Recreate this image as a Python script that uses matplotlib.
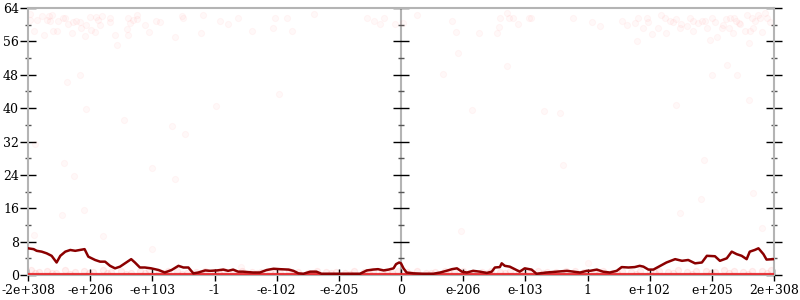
import numpy as np
import matplotlib.pyplot as plt

# x positions are on the tick-index scale (-6 .. 6), one unit per labelled tick
tick_labels = ["-2e+308", "-e+206", "-e+103", "-1", "-e-102", "-e-205", "0",
               "e-206", "e-103", "1", "e+102", "e+205", "2e+308"]

# running mean of the error (dark red line)
mean_x = [-6.00, -5.91, -5.86, -5.78, -5.70, -5.62, -5.54, -5.48, -5.40, -5.32,
          -5.24, -5.16, -5.09, -5.03, -4.92, -4.84, -4.76, -4.68, -4.60, -4.52,
          -4.44, -4.34, -4.28, -4.20, -4.12, -4.02, -3.90, -3.80, -3.69, -3.58,
          -3.50, -3.42, -3.34, -3.26, -3.15, -3.07, -2.96, -2.86, -2.78, -2.70,
          -2.62, -2.54, -2.38, -2.27, -2.16, -2.05, -1.95, -1.81, -1.73, -1.65,
          -1.57, -1.46, -1.36, -1.28, -1.14, -0.98, -0.82, -0.66, -0.55, -0.45,
          -0.37, -0.28, -0.20, -0.12, -0.08, -0.03, 0.00, 0.04, 0.09, 0.20,
          0.36, 0.52, 0.63, 0.73, 0.82, 0.90, 0.98, 1.06, 1.16, 1.27,
          1.38, 1.46, 1.51, 1.59, 1.62, 1.67, 1.75, 1.83, 1.91, 1.99,
          2.10, 2.18, 2.34, 2.50, 2.67, 2.77, 2.88, 2.99, 3.04, 3.15,
          3.25, 3.36, 3.47, 3.55, 3.66, 3.76, 3.84, 3.90, 3.98, 4.06,
          4.17, 4.27, 4.41, 4.52, 4.62, 4.73, 4.84, 4.92, 5.05, 5.13,
          5.24, 5.32, 5.40, 5.48, 5.56, 5.61, 5.69, 5.75, 5.83, 5.88, 5.99]
mean_y = [6.4, 6.2, 5.8, 5.6, 5.2, 4.6, 3.0, 4.6, 5.6, 6.0,
          5.8, 6.0, 6.2, 4.4, 3.6, 3.2, 3.2, 2.2, 1.6, 2.0,
          2.8, 3.8, 3.0, 1.8, 1.8, 1.6, 1.2, 0.6, 1.2, 2.2,
          1.8, 1.8, 0.4, 0.6, 1.1, 1.0, 1.1, 1.3, 1.0, 1.3,
          0.8, 0.8, 0.6, 0.6, 1.2, 1.5, 1.4, 1.3, 1.0, 0.4,
          0.3, 0.8, 0.8, 0.3, 0.3, 0.3, 0.3, 0.3, 1.1, 1.3,
          1.4, 1.1, 1.3, 1.6, 2.6, 3.0, 2.8, 1.6, 0.6, 0.4,
          0.3, 0.3, 0.6, 1.0, 1.4, 1.6, 0.8, 0.6, 1.0, 0.8,
          0.5, 0.8, 1.8, 1.9, 2.8, 2.2, 2.0, 1.4, 0.8, 1.6,
          1.3, 0.3, 0.6, 0.8, 1.0, 0.8, 0.6, 1.0, 1.0, 1.3,
          0.8, 0.6, 1.0, 1.9, 1.8, 1.9, 2.2, 2.0, 1.3, 1.3,
          2.2, 3.0, 3.8, 3.4, 3.6, 2.8, 3.0, 4.6, 4.5, 3.4,
          4.0, 5.6, 5.0, 4.6, 3.8, 5.6, 6.0, 6.4, 5.0, 3.7, 3.8]

# individual samples with large error
high_x = [-5.96, -5.97, -5.91, -5.86, -5.78, -5.75, -5.70, -5.67, -5.65, -5.62,
          -5.59, -5.54, -5.51, -5.43, -5.40, -5.38, -5.35, -5.30, -5.27, -5.22,
          -5.16, -5.16, -5.14, -5.08, -5.07, -5.06, -5.00, -4.98, -4.92, -4.90,
          -4.87, -4.84, -4.81, -4.68, -4.68, -4.60, -4.57, -4.46, -4.41, -4.39,
          -4.39, -4.36, -4.31, -4.25, -4.25, -4.12, -4.06, -3.94, -3.88, -3.69,
          -3.64, -3.53, -3.50, -3.48, -3.22, -3.18, -2.98, -2.91, -2.78, -2.62,
          -2.40, -2.06, -2.03, -1.97, -1.83, -1.76, -1.40, -0.55, -0.44, -0.34,
          -0.28, -0.10, -5.88,
          0.04, 0.26, 0.82, 0.88, 0.91, 0.67, 1.14, 1.25, 1.54, 1.57,
          1.60, 1.70, 1.73, 1.70, 1.80, 1.89, 2.06, 2.09, 2.30, 2.56,
          2.77, 3.08, 3.20, 3.55, 3.63, 3.76, 3.79, 3.82, 3.90, 3.95,
          3.98, 4.03, 4.14, 4.19, 4.25, 4.27, 4.33, 4.38, 4.42, 4.43,
          4.48, 4.51, 4.60, 4.65, 4.69, 4.70, 4.78, 4.84, 4.89, 4.92,
          4.97, 5.00, 5.01, 5.05, 5.09, 5.16, 5.18, 5.23, 5.25, 5.27,
          5.29, 5.34, 5.35, 5.39, 5.40, 5.43, 5.45, 5.53, 5.56, 5.59,
          5.60, 5.61, 5.64, 5.67, 5.69, 5.75, 5.78, 5.80, 5.86, 5.88, 5.93,
          -5.42, -5.26, -4.01, -3.64, -5.10, -5.45, -5.90, -4.79, -4.01,
          2.61, 4.87, 5.67, 4.83, 4.48, 5.81, 0.97, 3.00, -2.57]
high_y = [62.5, 61.1, 58.5, 61.1, 62.1, 57.5, 61.1, 62.1, 61.0, 62.3,
          58.5, 58.5, 61.0, 61.5, 61.7, 46.3, 60.2, 57.9, 60.7, 61.0,
          60.7, 47.9, 59.1, 57.3, 39.9, 59.9, 61.9, 58.7, 58.3, 61.9,
          61.1, 59.9, 62.1, 61.7, 60.7, 57.5, 55.1, 37.1, 58.9, 57.5,
          61.7, 60.3, 61.1, 62.3, 61.3, 59.9, 58.3, 61.0, 60.7, 35.7,
          57.0, 62.1, 61.7, 33.9, 58.1, 62.3, 40.5, 61.0, 60.2, 61.7,
          58.5, 59.3, 61.7, 43.3, 61.7, 58.5, 62.5, 61.5, 61.0, 60.2,
          61.7, 60.2, 31.5,
          60.5, 62.3, 61.0, 58.3, 53.3, 48.3, 39.5, 58.1, 58.1, 59.5,
          61.5, 62.7, 61.7, 50.1, 61.5, 60.2, 61.7, 61.5, 39.3, 38.9,
          61.5, 60.7, 59.7, 61.0, 59.9, 60.5, 56.2, 61.5, 59.1, 61.5,
          60.7, 57.8, 59.3, 62.3, 61.5, 58.1, 61.0, 60.7, 61.3, 40.7,
          59.1, 60.2, 59.7, 61.5, 58.5, 61.0, 60.5, 61.0, 61.0, 59.1,
          56.3, 61.5, 47.9, 60.7, 57.0, 59.1, 59.9, 61.3, 50.3, 59.3,
          61.7, 58.1, 61.5, 61.0, 47.9, 60.3, 60.2, 58.5, 62.3, 55.5,
          41.9, 58.5, 61.5, 59.3, 61.0, 62.3, 61.5, 58.3, 62.7, 61.5, 60.7,
          26.9, 23.7, 25.6, 23.1, 15.5, 14.4, 9.5, 9.4, 6.3,
          26.3, 27.6, 19.7, 18.1, 14.8, 11.3, 10.6, 2.9, 1.9]

# samples with small error (pink band just above zero)
low_x = [-5.95, -5.82, -5.70, -5.55, -5.41, -5.25, -5.10, -4.96, -4.80, -4.66,
         -4.50, -4.35, -4.20, -4.05, -3.90, -3.74, -3.60, -3.45, -3.30, -3.15,
         -3.00, -2.85, -2.70, -2.55, -2.40, -2.25, -2.10, -1.95, -1.80, -1.65,
         -1.50, -1.35, -1.20, -1.05, -0.90, -0.75, -0.60, -0.45, -0.30, -0.15,
         -0.05, 0.10, 0.25, 0.40, 0.55, 0.70, 0.85, 1.00, 1.15, 1.30,
         1.45, 1.60, 1.75, 1.90, 2.05, 2.20, 2.35, 2.50, 2.65, 2.80,
         2.95, 3.10, 3.25, 3.40, 3.55, 3.70, 3.85, 4.00, 4.15, 4.30,
         4.45, 4.60, 4.75, 4.90, 5.05, 5.20, 5.35, 5.50, 5.65, 5.80, 5.95,
         -5.88, -5.62, -5.33, -5.02, -4.73, -4.42, -4.12, -3.82, -3.52, -3.22,
         -2.92, -2.62, -2.32, -2.02, -1.72, -1.42, -1.12, -0.82, -0.52, -0.22,
         0.18, 0.48, 0.78, 1.08, 1.38, 1.68, 1.98, 2.28, 2.58, 2.88,
         3.18, 3.48, 3.78, 4.08, 4.38, 4.68, 4.98, 5.28, 5.58, 5.88]
low_y = [1.2, 0.8, 1.0, 0.6, 1.1, 0.8, 1.0, 0.7, 1.2, 0.8,
         1.0, 0.6, 0.9, 1.1, 0.7, 0.9, 1.0, 0.6, 0.8, 1.0,
         0.7, 0.9, 0.6, 1.0, 0.8, 0.7, 1.0, 0.6, 0.9, 0.8,
         0.6, 1.0, 0.7, 0.8, 0.6, 0.9, 0.7, 1.0, 0.8, 0.6,
         1.0, 0.7, 0.9, 0.6, 0.8, 1.0, 0.7, 0.9, 0.6, 0.8,
         1.0, 0.7, 0.9, 0.8, 0.6, 1.0, 0.8, 0.7, 0.9, 1.0,
         0.7, 0.8, 1.0, 0.6, 0.9, 0.8, 1.0, 0.7, 0.9, 0.8,
         1.1, 0.7, 0.9, 1.0, 0.8, 1.1, 0.9, 0.8, 1.0, 0.9, 1.1,
         0.4, 0.5, 0.3, 0.5, 0.4, 0.3, 0.5, 0.4, 0.3, 0.5,
         0.4, 0.3, 0.5, 0.4, 0.3, 0.5, 0.4, 0.3, 0.5, 0.4,
         0.3, 0.5, 0.4, 0.3, 0.5, 0.4, 0.3, 0.5, 0.4, 0.3,
         0.5, 0.4, 0.3, 0.5, 0.4, 0.3, 0.5, 0.4, 0.3, 0.5]

# exact samples (error 0) across the whole range
zero_x = [-6, 6]
zero_y = [0, 0]

y_major = np.arange(0, 65, 8)
y_minor = np.arange(4, 64, 8)

fig = plt.figure(figsize=(8, 3), dpi=100)
ax = fig.add_axes([0.035, 0.0833, 0.9325, 0.89])
plt.rcParams['font.family'] = 'DejaVu Serif'

ax.scatter(low_x, low_y, s=20, color='#ff3030', alpha=0.07, linewidths=0.8, zorder=2)
ax.scatter(high_x, high_y, s=20, color='#ff4040', alpha=0.035, linewidths=0.8, zorder=2)
ax.plot(zero_x, zero_y, color='#e8262b', lw=3, alpha=0.9, solid_capstyle='butt', zorder=3)
ax.plot(mean_x, mean_y, color='#8b0000', lw=1.8, zorder=4)

# centre line at zero with its own ticks
ax.axvline(0, color='#b4b4b4', lw=1.5, zorder=1)
ax.plot(np.zeros(len(y_major)), y_major, ls='none', marker='_', ms=11, mew=1, color='black', zorder=1)
ax.plot(np.zeros(len(y_minor)), y_minor, ls='none', marker='_', ms=5, mew=1, color='#555555', zorder=1)

ax.set_xlim(-6, 6)
ax.set_ylim(0, 64)
ax.set_xticks(np.arange(-6, 7))
ax.set_xticklabels(tick_labels, family='DejaVu Serif', fontsize=9)
ax.set_yticks(y_major)
ax.set_yticks(y_minor, minor=True)
ax.set_yticklabels([str(v) for v in y_major], family='DejaVu Serif', fontsize=9)

ax.tick_params(axis='y', which='major', direction='inout', length=11, width=1,
               right=True, left=True, pad=1, colors='black')
ax.tick_params(axis='y', which='minor', direction='inout', length=5, width=1,
               right=True, left=True, color='#555555')
ax.tick_params(axis='x', which='major', direction='inout', length=9, width=1, pad=2)

for s in ax.spines.values():
    s.set_color('#b4b4b4')
    s.set_linewidth(1.5)

fig.savefig('out.png', dpi=100)
